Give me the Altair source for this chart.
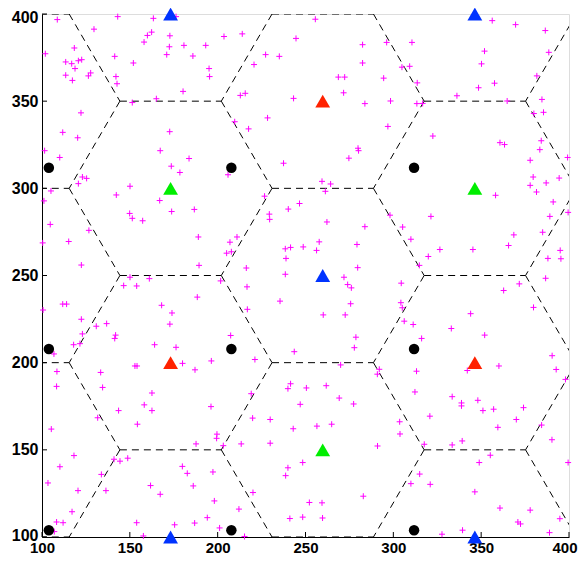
import math
import altair as alt
import pandas as pd

# ---- data ----
plus_x = [
    108.7, 143.1, 163.4, 129.6, 162.4, 160.0, 158.1, 172.8, 172.5, 171.0, 118.4, 101.9, 141.4, 113.5, 116.9,
    120.7, 122.6, 152.0, 118.8, 113.5, 127.7, 126.4, 142.1, 117.3, 142.7, 165.1, 151.4, 122.2, 111.8, 120.3,
    172.7, 101.5, 110.1, 167.3, 173.6, 123.0, 125.4, 120.7, 150.1,
    176.3, 203.6, 214.0, 244.6, 180.8, 193.2, 185.9, 227.3, 235.1, 220.7, 195.1, 195.4, 180.3, 212.9, 215.7,
    243.2, 209.7, 228.4, 217.6, 183.7, 237.5, 178.5, 205.9,
    255.6, 282.5, 296.2, 310.6, 282.5, 304.9, 309.3, 268.7, 272.3, 294.5, 313.6, 271.7, 283.8, 298.4, 313.4,
    316.7, 296.9, 322.5, 279.9, 280.2, 274.7, 259.4, 264.3,
    356.3, 369.6, 386.5, 351.9, 388.5, 350.2, 381.7, 357.6, 348.5, 336.2, 364.8, 384.6, 380.0, 385.5, 360.7,
    363.3, 384.2, 383.4, 399.2, 377.9, 379.6, 394.4, 387.0, 377.9,
    105.1, 101.1, 142.3, 167.0, 173.8, 149.9, 151.4, 157.3, 104.7, 126.7, 115.2, 100.4, 122.4, 150.1, 161.1,
    146.5, 153.9, 111.8, 114.0, 168.1, 174.0, 100.6, 122.4, 136.8, 130.9, 172.8, 123.0, 141.9, 141.4, 118.0,
    121.6, 164.1, 106.8,
    226.7, 246.6, 186.7, 240.2, 229.4, 229.6, 189.0, 211.0, 207.0, 205.1, 207.8, 238.5, 241.5, 248.7, 238.9,
    189.4, 216.3, 238.5, 201.7, 216.7, 188.4, 235.5, 216.9, 207.4, 176.3, 243.6, 196.4, 221.2, 180.0,
    261.3, 321.4, 298.1, 262.2, 283.8, 305.3, 310.0, 257.8, 279.3, 256.3, 319.9, 314.8, 279.7, 271.9, 274.0,
    276.1, 304.5, 275.7, 304.3, 305.1, 260.1, 272.6, 306.2, 311.3, 278.7, 316.1, 277.8,
    358.2, 381.5, 391.0, 399.5, 389.1, 368.6, 385.0, 365.6, 326.5, 345.3, 395.0, 388.0, 395.4, 386.7, 371.7,
    362.8, 379.8, 344.0, 333.0, 352.0, 390.4,
    108.5, 108.3, 133.4, 134.5, 152.9, 154.1, 162.6, 158.2, 162.6, 143.6, 154.3, 131.7, 105.3, 118.2, 110.2,
    141.0, 144.4, 148.8, 133.8, 103.4, 161.8, 120.5, 136.4, 167.3, 117.1, 108.3, 112.0, 153.9, 107.0, 157.7,
    175.5,
    187.1, 219.1, 241.5, 240.0, 247.0, 196.2, 219.9, 229.9, 243.0, 199.6, 199.4, 187.7, 203.2, 213.4, 229.9,
    248.4, 240.0, 238.7, 179.9, 182.7, 197.3, 186.1, 220.1, 198.1, 212.1, 194.1, 186.9, 241.1, 248.4, 201.1,
    215.3,
    270.0, 292.0, 313.2, 290.9, 261.8, 312.3, 269.2, 277.4, 320.8, 303.6, 303.8, 256.5, 264.9, 291.0, 317.6,
    315.0, 310.0, 321.0, 282.9, 252.2, 259.4, 259.7, 250.5,
    342.1, 360.1, 392.7, 398.0, 333.5, 338.8, 338.8, 348.1, 351.0, 357.1, 374.1, 370.0, 359.5, 384.4, 390.3,
    333.5, 339.2, 355.2, 348.9, 399.5, 346.4, 360.7, 377.9, 370.9, 372.4, 394.8, 327.7, 339.4, 388.9,
]
plus_y = [
    396.8, 398.5, 397.5, 391.3, 389.6, 387.7, 383.9, 387.5, 381.2, 376.7, 380.5, 377.2, 375.7, 372.5, 371.5,
    373.2, 373.8, 371.9, 368.7, 364.9, 366.2, 364.5, 364.1, 361.9, 360.0, 351.4, 349.2, 343.3, 332.1, 329.0,
    332.5, 321.6, 317.7, 321.6, 312.7, 306.5, 305.7, 302.7, 301.2,
    398.5, 387.1, 388.6, 386.0, 382.0, 382.0, 375.9, 376.7, 375.7, 371.0, 368.7, 364.1, 355.6, 353.3, 354.5,
    351.6, 338.2, 340.4, 334.1, 317.1, 314.4, 309.1, 307.8,
    397.0, 382.4, 383.7, 383.7, 371.9, 369.5, 370.0, 363.8, 363.8, 363.2, 360.5, 354.8, 348.6, 350.1, 348.6,
    348.7, 335.5, 330.0, 323.0, 321.6, 317.3, 304.0, 302.5,
    396.2, 393.9, 390.5, 378.7, 378.0, 371.4, 364.5, 360.3, 357.7, 353.1, 350.1, 351.0, 342.9, 343.6, 326.2,
    325.1, 327.3, 322.2, 317.7, 316.1, 306.5, 305.9, 303.1, 301.7,
    298.5, 292.8, 296.2, 293.0, 286.7, 285.6, 282.8, 281.4, 279.3, 275.9, 269.5, 268.7, 256.0, 249.0, 248.2,
    244.2, 244.0, 233.6, 233.6, 232.9, 228.5, 230.2, 224.9, 222.4, 220.9, 222.1, 216.5, 215.8, 213.9, 210.3,
    210.9, 210.3, 205.0,
    295.5, 291.3, 287.9, 288.1, 285.2, 282.2, 272.1, 272.1, 269.1, 262.8, 263.6, 265.3, 266.1, 266.4, 259.8,
    255.8, 254.3, 250.7, 246.9, 243.5, 237.6, 235.3, 230.6, 215.6, 208.8, 206.3, 201.0, 201.8, 199.6,
    298.3, 283.9, 284.6, 280.7, 278.0, 277.8, 270.8, 269.3, 267.8, 264.4, 260.9, 255.8, 254.5, 249.0, 244.8,
    242.9, 245.6, 233.8, 234.4, 231.5, 227.4, 227.4, 223.8, 221.9, 214.6, 213.9, 208.6,
    296.0, 297.9, 292.2, 286.2, 283.9, 273.3, 274.8, 267.2, 264.9, 264.9, 264.4, 259.8, 259.6, 248.4, 245.2,
    241.4, 231.7, 228.1, 219.6, 215.8, 204.0,
    194.9, 186.4, 194.4, 185.8, 198.1, 198.1, 182.6, 175.8, 172.5, 172.5, 164.7, 168.4, 161.9, 146.7, 140.3,
    144.6, 143.5, 145.2, 135.9, 131.0, 129.5, 126.6, 126.6, 124.5, 114.5, 108.6, 108.2, 108.2, 103.1, 100.6,
    107.0,
    195.9, 182.2, 187.9, 185.1, 176.1, 174.8, 168.2, 167.4, 162.1, 159.0, 156.6, 153.4, 152.4, 153.4, 153.8,
    142.7, 139.7, 135.2, 140.5, 136.5, 137.3, 129.3, 125.5, 120.7, 116.0, 111.1, 108.0, 110.6, 111.4, 105.2,
    100.3,
    198.7, 196.2, 195.1, 193.4, 186.8, 183.2, 179.7, 176.3, 169.3, 166.1, 159.1, 163.6, 164.7, 152.2, 153.2,
    136.1, 130.6, 130.2, 123.4, 119.8, 119.6, 110.9, 185.5,
    195.5, 198.1, 196.1, 190.4, 180.5, 176.9, 175.2, 178.4, 172.5, 173.3, 174.2, 167.4, 162.9, 164.2, 155.8,
    152.8, 155.1, 146.9, 142.7, 142.7, 125.9, 116.6, 115.4, 108.6, 107.5, 110.5, 101.6, 103.9, 102.5,
]

tri_x = [173.2, 346.4, 259.8, 173.2, 346.4, 259.8, 173.2, 346.4, 259.8, 173.2, 346.4]
tri_y = [400, 400, 350, 300, 300, 250, 200, 200, 150, 100, 100]
tri_group = ["b", "b", "r", "g", "g", "b", "r", "r", "g", "b", "b"]

circ_x = [103.9, 207.8, 311.8, 103.9, 207.8, 311.8, 103.9, 207.8, 311.8]
circ_y = [311.8, 311.8, 311.8, 207.8, 207.8, 207.8, 103.9, 103.9, 103.9]

tick_values = [100, 150, 200, 250, 300, 350, 400]

# ---- hexagonal cell boundaries (radius 100/sqrt(3)) ----
R = 100 / math.sqrt(3)
edges = {}
for m in range(0, 7):
    for n in range(0, 11):
        if (m + n) % 2:
            continue
        cx, cy = m * 1.5 * R, n * 50.0
        verts = [(cx + R * math.cos(math.radians(60 * k)), cy + R * math.sin(math.radians(60 * k))) for k in range(6)]
        for k in range(6):
            a, b = verts[k], verts[(k + 1) % 6]
            key = tuple(sorted([(round(a[0], 2), round(a[1], 2)), (round(b[0], 2), round(b[1], 2))]))
            if max(a[0], b[0]) < 100 or min(a[0], b[0]) > 400 or max(a[1], b[1]) < 100 or min(a[1], b[1]) > 400:
                continue
            edges[key] = (a[0], a[1], b[0], b[1])
hex_df = pd.DataFrame(list(edges.values()), columns=["x", "y", "x2", "y2"])

plus_df = pd.DataFrame({"x": plus_x, "y": plus_y})
tri_df = pd.DataFrame({"x": tri_x, "y": tri_y, "g": tri_group})
circ_df = pd.DataFrame({"x": circ_x, "y": circ_y})
tick_df = pd.DataFrame({"t": tick_values})

W = 527
H = 523
xs = alt.Scale(domain=[100, 400], nice=False, zero=False)
ys = alt.Scale(domain=[100, 400], nice=False, zero=False)

ax_common = dict(values=tick_values, ticks=False, grid=False, domainColor="black", domainWidth=1,
                 labelFont="Liberation Sans", labelFontWeight="bold",
                 labelColor="black", labelFlush=False, labelOverlap=False, title=None)
X = alt.X("x:Q", scale=xs, axis=alt.Axis(
    labelPadding=3.5, labelFontSize=15,
    labelAlign={"condition": {"test": "datum.value === 400", "value": "right"}, "value": "center"},
    labelOffset={"condition": {"test": "datum.value === 400", "value": 8}, "value": 0},
    **ax_common))
Y = alt.Y("y:Q", scale=ys, axis=alt.Axis(
    labelPadding=4, labelFontSize=16,
    labelOffset={"condition": [{"test": "datum.value === 100", "value": -2},
                               {"test": "datum.value === 400", "value": 3}],
                 "value": 0},
    **ax_common))

hexes = alt.Chart(hex_df).mark_rule(color="black", strokeWidth=1, strokeDash=[7, 5], clip=True).encode(
    x=X, y=Y, x2="x2:Q", y2="y2:Q")

pluses = alt.Chart(plus_df).mark_point(
    shape="M-1,0L1,0M0,-1L0,1", filled=False, color="#ff00ff", size=36, strokeWidth=1, opacity=1
).encode(x=alt.X("x:Q", scale=xs), y=alt.Y("y:Q", scale=ys))

circles = alt.Chart(circ_df).mark_point(shape="circle", filled=True, color="black", size=110, opacity=1).encode(
    x=alt.X("x:Q", scale=xs), y=alt.Y("y:Q", scale=ys))

tris = alt.Chart(tri_df).mark_point(shape="triangle-up", filled=True, size=220, opacity=1, clip=False).encode(
    x=alt.X("x:Q", scale=xs), y=alt.Y("y:Q", scale=ys),
    color=alt.Color("g:N", scale=alt.Scale(domain=["r", "g", "b"], range=["#ff2200", "#00ee00", "#0033ff"]),
                    legend=None))

xticks = alt.Chart(tick_df).mark_rule(color="black", strokeWidth=1).encode(
    x=alt.X("t:Q", scale=xs), y=alt.value(H), y2=alt.value(H - 5))
yticks = alt.Chart(tick_df).mark_rule(color="black", strokeWidth=1).encode(
    y=alt.Y("t:Q", scale=ys), x=alt.value(0), x2=alt.value(5))

chart = alt.layer(hexes, pluses, circles, tris, xticks, yticks).properties(
    width=W, height=H, autosize="none",
    padding={"left": 34, "top": 6, "right": 10, "bottom": 20},
).configure_view(stroke=None).configure(background="white")

chart.save("out.html", embed_options={"renderer": "svg", "actions": False})
